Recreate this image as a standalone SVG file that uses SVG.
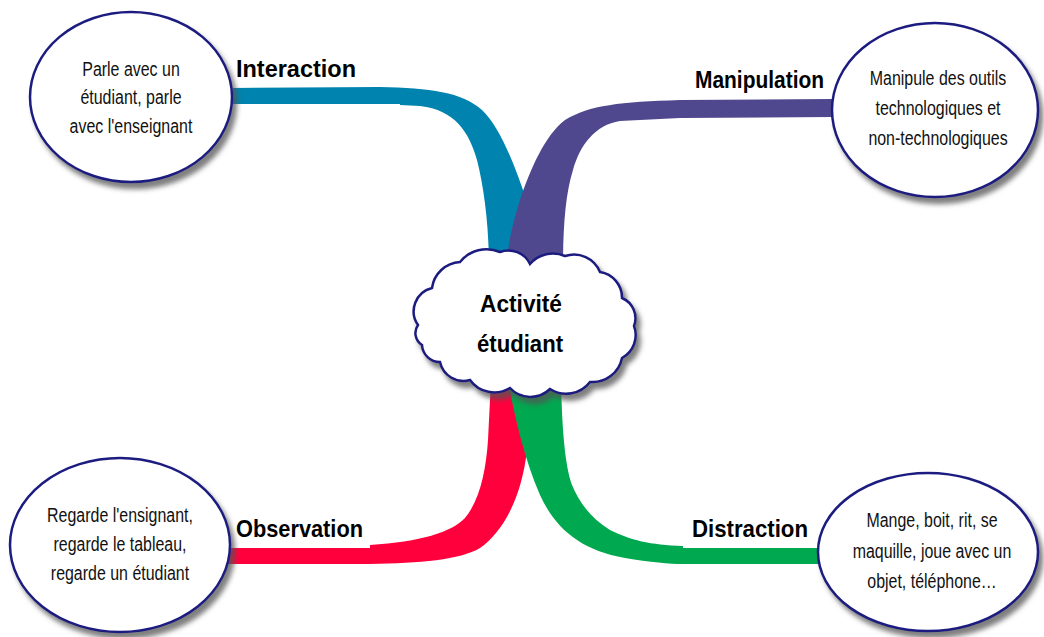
<svg xmlns="http://www.w3.org/2000/svg" width="1044" height="637" viewBox="0 0 1044 637">
<defs>
<filter id="sh" x="-10%" y="-10%" width="125%" height="125%">
<feDropShadow dx="4" dy="6" stdDeviation="2.5" flood-color="#555" flood-opacity="0.75"/>
</filter>
<style>
.node{fill:#fff;stroke:#1c1c80;stroke-width:2.5;filter:url(#sh)}
.t{font-family:"Liberation Sans",Arial,sans-serif;font-size:21px;fill:#111;text-anchor:middle}
.b{font-family:"Liberation Sans",Arial,sans-serif;font-size:24px;font-weight:bold;fill:#000}
</style>
</defs>
<rect width="1044" height="637" fill="#fff"/>
<g id="connectors">
<path id="br-interaction" fill="#0083ae" d="M233,88 L380,87 C430,88 462,92 482,110 C500,127 515,165 528,205 L530,268 L489,268 C489,225 484,188 477,160 C469,132 455,110 420,106 L400,105 L400,104 L233,104 Z"/>
<path id="br-manipulation" fill="#50488e" d="M832,99 L680,100 C620,102 590,105 565,120 C545,135 530,170 520,200 C512,225 508,245 506,268 L563,268 C563,230 565,195 573,170 C580,145 595,125 620,121 L680,118 L832,117 Z"/>
<path id="br-observation" fill="#ff003c" d="M228,548 L370,548 L370,545 C420,542 452,532 465,518 C480,500 486,470 488,440 L491,380 L525,380 L527,450 C522,495 505,530 480,548 C460,560 420,563 370,564 L228,564 Z"/>
<path id="br-distraction" fill="#00a84f" d="M508,380 C515,420 525,460 540,495 C555,528 580,550 625,558 C650,562 670,564 683,564 L820,564 L820,548 L683,548 L683,546 C650,545 630,540 610,530 C590,518 578,500 572,485 C565,465 562,430 561,380 Z"/>
</g>
<g id="n-interaction">
<ellipse class="node" cx="131" cy="97" rx="101" ry="85"/>
<g transform="translate(131,0) scale(0.76,1)">
<text class="t" x="0" y="76">Parle avec un</text>
<text class="t" x="0" y="104">étudiant, parle</text>
<text class="t" x="0" y="133">avec l'enseignant</text>
</g>
</g>
<g id="n-manipulation">
<ellipse class="node" cx="935" cy="110" rx="103" ry="87"/>
<g transform="translate(938,0) scale(0.76,1)">
<text class="t" x="0" y="85">Manipule des outils</text>
<text class="t" x="0" y="115">technologiques et</text>
<text class="t" x="0" y="145">non-technologiques</text>
</g>
</g>
<g id="n-observation">
<ellipse class="node" cx="120" cy="545" rx="110" ry="87"/>
<g transform="translate(120,0) scale(0.76,1)">
<text class="t" x="0" y="522">Regarde l'ensignant,</text>
<text class="t" x="0" y="551">regarde le tableau,</text>
<text class="t" x="0" y="580">regarde un étudiant</text>
</g>
</g>
<g id="n-distraction">
<ellipse class="node" cx="928" cy="552" rx="110" ry="79"/>
<g transform="translate(932,0) scale(0.76,1)">
<text class="t" x="0" y="527">Mange, boit, rit, se</text>
<text class="t" x="0" y="558">maquille, joue avec un</text>
<text class="t" x="0" y="588">objet, téléphone…</text>
</g>
</g>
<g id="center">
<path class="node" d="M418,325 A24,24 0 0 1 432,288 A30,30 0 0 1 460,262 A34,34 0 0 1 500,252 A24,24 0 0 1 530,264 A30,30 0 0 1 565,256 A28,28 0 0 1 600,272 A26,26 0 0 1 622,298 A22,22 0 0 1 634,326 A26,26 0 0 1 622,358 A30,30 0 0 1 590,382 A30,30 0 0 1 550,389 A28,28 0 0 1 510,388 A30,30 0 0 1 470,380 A24,24 0 0 1 440,362 A18,18 0 0 1 422,345 A14,14 0 0 1 418,325 Z"/>
<text class="b" text-anchor="middle" x="521" y="312" textLength="82" lengthAdjust="spacingAndGlyphs">Activité</text>
<text class="b" text-anchor="middle" x="520" y="352" textLength="86" lengthAdjust="spacingAndGlyphs">étudiant</text>
</g>
<g id="labels">
<text class="b" x="236" y="77" textLength="120" lengthAdjust="spacingAndGlyphs">Interaction</text>
<text class="b" x="695" y="88" textLength="129" lengthAdjust="spacingAndGlyphs">Manipulation</text>
<text class="b" x="236" y="537" textLength="127" lengthAdjust="spacingAndGlyphs">Observation</text>
<text class="b" x="692" y="537" textLength="116" lengthAdjust="spacingAndGlyphs">Distraction</text>
</g>
</svg>
